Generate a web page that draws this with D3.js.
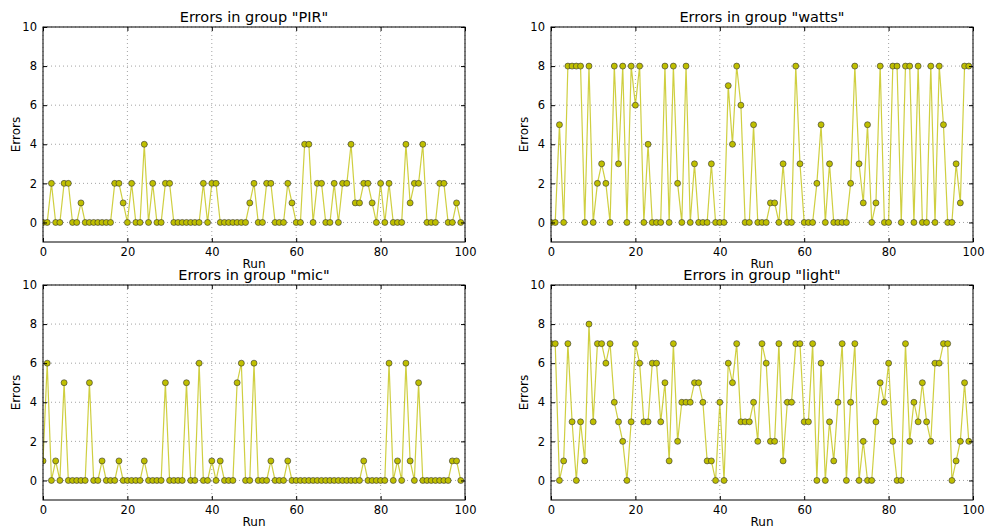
<!DOCTYPE html>
<html><head><meta charset="utf-8">
<script src="https://cdn.jsdelivr.net/npm/d3@7"></script>
<style>
body{margin:0;background:#fff;}
text{font-family:"DejaVu Sans",sans-serif;fill:#000;}
</style></head>
<body><svg id="c" width="985" height="529"></svg>
<script>
const groups = ["PIR", "watts", "mic", "light"];
const pirErrors = [0,0,2,0,0,2,2,0,0,1, 0,0,0,0,0,0,0,2,2,1, 0,2,0,0,4,0,2,0,0,2, 2,0,0,0,0,0,0,0,2,0, 2,2,0,0,0,0,0,0,0,1, 2,0,0,2,2,0,0,0,2,1, 0,0,4,4,0,2,2,0,0,2, 0,2,2,4,1,1,2,2,1,0, 2,0,2,0,0,0,4,1,2,2, 4,0,0,0,2,2,0,0,1,0];
const wattsErrors = [0,0,5,0,8,8,8,8,0,8, 0,2,3,2,0,8,3,8,0,8, 6,8,0,4,0,0,0,8,0,8, 2,0,8,0,3,0,0,0,3,0, 0,0,7,4,8,6,0,0,5,0, 0,0,1,1,0,3,0,0,8,3, 0,0,0,2,5,0,3,0,0,0, 0,2,8,3,1,5,0,1,8,0, 0,8,8,0,8,8,0,8,0,0, 8,0,8,5,0,0,3,1,8,8];
const micErrors = [1,6,0,1,0,5,0,0,0,0, 0,5,0,0,1,0,0,0,1,0, 0,0,0,0,1,0,0,0,0,5, 0,0,0,0,5,0,0,6,0,0, 1,0,1,0,0,0,5,6,0,0, 6,0,0,0,1,0,0,0,1,0, 0,0,0,0,0,0,0,0,0,0, 0,0,0,0,0,0,1,0,0,0, 0,0,6,0,1,0,6,1,0,5, 0,0,0,0,0,0,0,1,1,0];
const lightErrors = [7,7,0,1,7,3,0,3,1,8, 3,7,7,6,7,4,3,2,0,3, 7,6,3,3,6,6,3,5,1,7, 2,4,4,4,5,5,4,1,1,0, 4,0,6,5,7,3,3,3,4,2, 7,6,2,2,7,1,4,4,7,7, 3,3,7,0,6,0,3,1,4,7, 0,4,7,0,2,0,0,3,5,4, 6,2,0,0,7,2,4,3,5,3, 2,6,6,7,7,0,1,2,5,2];
const xTicks = [0, 20, 40, 60, 80, 100];
const yTicks = [0, 2, 4, 6, 8, 10];
const xDomain = [0, 100];
const yDomain = [-1, 10];

const seriesList = [pirErrors, wattsErrors, micErrors, lightErrors];
const svg = d3.select("#c");
const W = 422, H = 215;
const pos = [[43,27],[551,27],[43,285],[551,285]];

groups.forEach((g, k) => {
  const data = seriesList[k];
  const [L, T] = pos[k];
  const x = d3.scaleLinear().domain(xDomain).range([0, W]);
  const y = d3.scaleLinear().domain(yDomain).range([H, 0]);
  const p = svg.append("g").attr("transform", `translate(${L},${T})`);
  const cid = "clip" + k;
  p.append("clipPath").attr("id", cid).append("rect").attr("width", W).attr("height", H);

  // grid
  const grid = p.append("g").attr("stroke", "#000").attr("stroke-width", 0.6).attr("stroke-dasharray", "1,3").attr("opacity", 0.6);
  xTicks.forEach(t => grid.append("line").attr("x1", x(t)).attr("x2", x(t)).attr("y1", 0).attr("y2", H));
  yTicks.forEach(t => grid.append("line").attr("x1", 0).attr("x2", W).attr("y1", y(t)).attr("y2", y(t)));

  // data
  const dg = p.append("g").attr("clip-path", `url(#${cid})`);
  const line = d3.line().x((d, i) => x(i)).y(d => y(d));
  dg.append("path").datum(data).attr("d", line).attr("fill", "none")
    .attr("stroke", "#bfbf00").attr("stroke-opacity", 0.75).attr("stroke-width", 1.2);
  dg.selectAll("circle").data(data).join("circle")
    .attr("cx", (d, i) => x(i)).attr("cy", d => y(d)).attr("r", 3)
    .attr("fill", "#bfbf00").attr("stroke", "#333").attr("stroke-width", 0.6);

  // axes
  const ax = (gen, tr) => {
    const a = p.append("g").attr("transform", tr).call(gen);
    a.select(".domain").remove();
    a.selectAll("line").attr("stroke", "#000");
    a.selectAll("text").attr("font-size", 11.5).attr("font-family", "DejaVu Sans, sans-serif");
    return a;
  };
  ax(d3.axisBottom(x).tickValues(xTicks).tickSize(-4).tickPadding(6).tickFormat(d3.format("d")), `translate(0,${H})`);
  ax(d3.axisTop(x).tickValues(xTicks).tickSize(-4).tickFormat(""), "translate(0,0)");
  ax(d3.axisLeft(y).tickValues(yTicks).tickSize(-4).tickPadding(6).tickFormat(d3.format("d")), "translate(0,0)");
  ax(d3.axisRight(y).tickValues(yTicks).tickSize(-4).tickFormat(""), `translate(${W},0)`);

  p.append("rect").attr("width", W).attr("height", H).attr("fill", "none").attr("stroke", "#000").attr("stroke-width", 1);

  p.append("text").attr("x", W/2).attr("y", -5).attr("text-anchor", "middle").attr("font-size", 14.5)
    .text(`Errors in group "${g}"`);
  p.append("text").attr("x", W/2).attr("y", H + 26).attr("text-anchor", "middle").attr("font-size", 12).text("Run");
  p.append("text").attr("transform", `translate(${-23},${H/2}) rotate(-90)`).attr("text-anchor", "middle")
    .attr("font-size", 12).text("Errors");
});
</script></body></html>
